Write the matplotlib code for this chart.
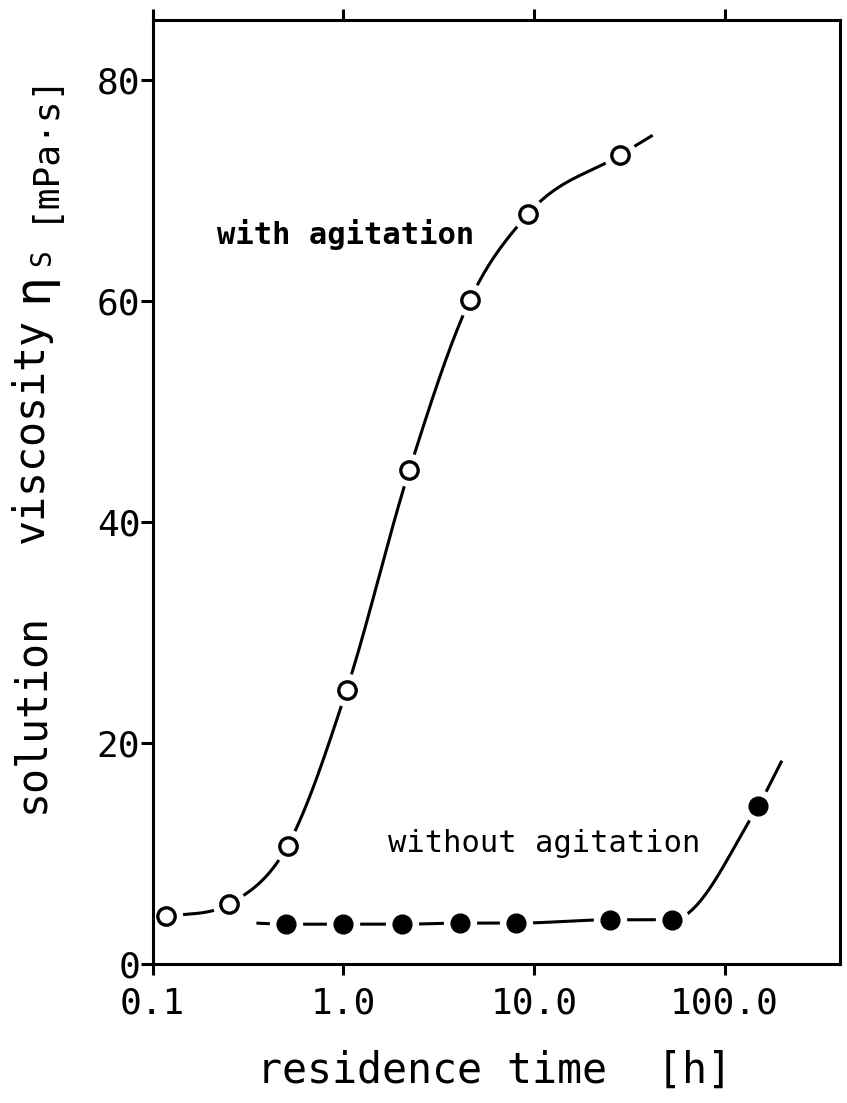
import numpy as np
import matplotlib
matplotlib.use("Agg")
import matplotlib.pyplot as plt
from matplotlib.ticker import FixedLocator, NullLocator

# ---------------- data ----------------
with_x = [0.118, 0.25, 0.51, 1.04, 2.22, 4.62, 9.35, 28.3]
with_y = [4.3, 5.4, 10.7, 24.8, 44.7, 60.1, 67.9, 73.2]
with_curve_end = (42.0, 75.0)

without_x = [0.5, 1.0, 2.03, 4.1, 8.1, 25.1, 53.0, 150.0]
without_y = [3.6, 3.6, 3.6, 3.7, 3.7, 4.0, 4.0, 14.3]
without_curve_start = (0.35, 3.7)
without_curve_end = (200.0, 18.4)

x_ticks = [0.1, 1.0, 10.0, 100.0]
x_tick_labels = ["0.1", "1.0", "10.0", "100.0"]
y_ticks = [0, 20, 40, 60, 80]
y_tick_labels = ["0", "20", "40", "60", "80"]

MONO = ["DejaVu Sans Mono"]


def hermite(x, y, m, xn):
    h = np.diff(x)
    n = len(x)
    idx = np.clip(np.searchsorted(x, xn) - 1, 0, n - 2)
    t = (xn - x[idx]) / h[idx]
    h00 = 2 * t**3 - 3 * t**2 + 1; h10 = t**3 - 2 * t**2 + t
    h01 = -2 * t**3 + 3 * t**2; h11 = t**3 - t**2
    return h00 * y[idx] + h10 * h[idx] * m[idx] + h01 * y[idx + 1] + h11 * h[idx] * m[idx + 1]


def slopes_pchip(x, y):
    h = np.diff(x); d = np.diff(y) / h
    n = len(x); m = np.zeros(n)
    for k in range(1, n - 1):
        if d[k - 1] * d[k] <= 0:
            m[k] = 0.0
        else:
            w1 = 2 * h[k] + h[k - 1]; w2 = h[k] + 2 * h[k - 1]
            m[k] = (w1 + w2) / (w1 / d[k - 1] + w2 / d[k])
    m[0] = d[0]; m[-1] = d[-1]
    return m


def slopes_smooth(x, y):
    h = np.diff(x); d = np.diff(y) / h
    n = len(x); m = np.zeros(n)
    for k in range(1, n - 1):
        m[k] = (d[k - 1] * h[k] + d[k] * h[k - 1]) / (h[k - 1] + h[k])
    m[0] = d[0]; m[-1] = d[-1]
    for k in range(n - 1):
        if d[k] == 0:
            m[k] = m[k + 1] = 0
            continue
        a = m[k] / d[k]; b = m[k + 1] / d[k]
        s = a * a + b * b
        if s > 9:
            tau = 3 / np.sqrt(s)
            m[k] = tau * a * d[k]; m[k + 1] = tau * b * d[k]
    return m


def smooth(xs, ys, kind):
    lx = np.log10(xs); ys = np.asarray(ys, float)
    m = slopes_smooth(lx, ys) if kind == "smooth" else slopes_pchip(lx, ys)
    ln = np.linspace(lx[0], lx[-1], 400)
    return 10**ln, hermite(lx, ys, m, ln)


W, H = 847, 1103
fig = plt.figure(figsize=(W / 100, H / 100), dpi=100)
L, R, B, T = 152.7, 840.0, 964.0, 20.0
ax = fig.add_axes([L / W, 1 - B / H, (R - L) / W, (B - T) / H])

ax.set_xscale("log")
ax.set_xlim(0.1, 0.1 * 10**((R - L) / 190.6))
ax.set_ylim(0, (B - T) / 11.05)

lw = 2.2
# with agitation curve
cx = with_x + [with_curve_end[0]]
cy = with_y + [with_curve_end[1]]
sx, sy = smooth(cx, cy, "smooth")
ax.plot(sx, sy, color="black", lw=lw, zorder=2, solid_capstyle="butt")
ax.plot(with_x, with_y, "o", ms=24, color="white", mec="none", zorder=2.2)
ax.plot(with_x, with_y, "o", ms=12.5, mfc="white", mec="black", mew=2.4, zorder=4)

# without agitation curve
cx2 = [without_curve_start[0]] + without_x + [without_curve_end[0]]
cy2 = [without_curve_start[1]] + without_y + [without_curve_end[1]]
sx2, sy2 = smooth(cx2, cy2, "pchip")
ax.plot(sx2, sy2, color="black", lw=lw, zorder=2, solid_capstyle="butt")
ax.plot(without_x, without_y, "o", ms=24, color="white", mec="none", zorder=2.2)
ax.plot(without_x, without_y, "o", ms=13.5, color="black", zorder=4)

# annotations
ax.text(0.217, 66.0, "with agitation", ha="left", va="center",
        fontsize=22, family=MONO, fontweight="bold")
ax.text(1.72, 10.95, "without agitation", ha="left", va="center",
        fontsize=22, family=MONO)

# ticks
ax.xaxis.set_major_locator(FixedLocator(x_ticks))
ax.xaxis.set_minor_locator(NullLocator())
ax.set_xticklabels(x_tick_labels)
ax.yaxis.set_major_locator(FixedLocator(y_ticks))
ax.set_yticklabels(y_tick_labels)
ax.tick_params(axis="x", which="major", direction="out", length=8, width=lw,
               top=True, pad=8, labelsize=26)
ax.tick_params(axis="y", which="major", direction="out", length=9, width=lw,
               pad=0, labelsize=26)
for lab in ax.get_xticklabels() + ax.get_yticklabels():
    lab.set_family(MONO)
for sp in ax.spines.values():
    sp.set_linewidth(lw)

# axis labels (placed in pixel positions)
def fx(px):
    return px / W

def fy(py):
    return 1 - py / H

fig.text(fx(257), fy(1083), "residence time  [h]", ha="left", va="baseline",
         fontsize=30, family=MONO)

fig.text(fx(43), fy(813), "solution", rotation=90, rotation_mode="anchor",
         ha="left", va="baseline", fontsize=30, family=MONO)
fig.text(fx(43), fy(543), "viscosity", rotation=90, rotation_mode="anchor",
         ha="left", va="baseline", fontsize=30, family=MONO)
fig.text(fx(46), fy(302), "\u03b7", rotation=90, rotation_mode="anchor",
         ha="left", va="baseline", fontsize=36, family=MONO)
fig.text(fx(50), fy(266), "S", rotation=90, rotation_mode="anchor",
         ha="left", va="baseline", fontsize=20, family=MONO)
fig.text(fx(52), fy(222), "[mPa\u00b7s]", rotation=90, rotation_mode="anchor",
         ha="left", va="baseline", fontsize=26, family=MONO)

fig.savefig("out.png", dpi=100, facecolor="white")
